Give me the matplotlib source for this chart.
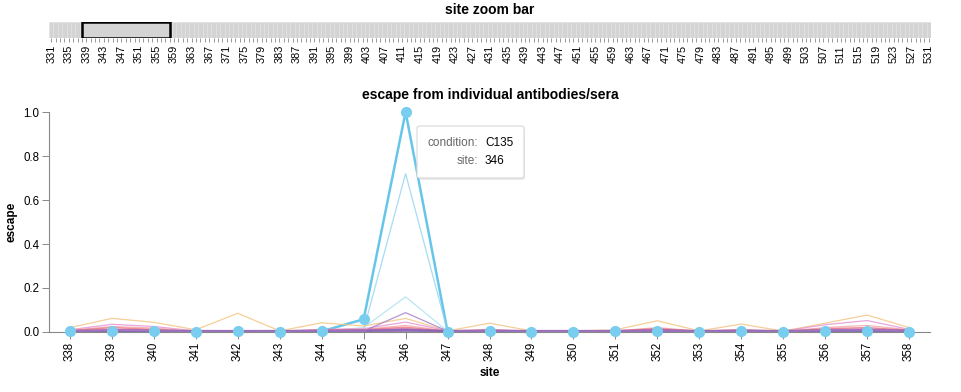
import numpy as np
import matplotlib.pyplot as plt
from matplotlib.patches import Rectangle, FancyBboxPatch
import matplotlib as mpl

mpl.rcParams['font.family'] = ['Liberation Sans', 'DejaVu Sans']

# zoom bar: all sites, with the selected window
all_sites = list(range(331, 532))
zoom_labels = list(range(331, 532, 4))
zoom_window = (338, 358)

# main panel: sites in the window and escape per condition
sites = list(range(338, 359))

c135 = [0.003, 0.003, 0.003, 0.002, 0.003, 0.002, 0.003, 0.058, 1.0, 0.002, 0.003,
        0.002, 0.002, 0.003, 0.003, 0.002, 0.003, 0.002, 0.003, 0.003, 0.002]
c110 = [0.002, 0.004, 0.003, 0.002, 0.002, 0.002, 0.003, 0.010, 0.72, 0.004, 0.003,
        0.002, 0.002, 0.002, 0.003, 0.002, 0.003, 0.002, 0.003, 0.004, 0.002]
c144 = [0.002, 0.003, 0.003, 0.002, 0.002, 0.002, 0.003, 0.020, 0.16, 0.003, 0.002,
        0.002, 0.002, 0.002, 0.003, 0.002, 0.002, 0.002, 0.003, 0.003, 0.002]
c121 = [0.004, 0.008, 0.006, 0.003, 0.004, 0.003, 0.006, 0.004, 0.088, 0.004, 0.005,
        0.003, 0.003, 0.004, 0.006, 0.003, 0.005, 0.003, 0.008, 0.010, 0.004]
serum_a = [0.020, 0.062, 0.044, 0.010, 0.085, 0.005, 0.042, 0.027, 0.062, 0.005, 0.040,
           0.005, 0.005, 0.010, 0.051, 0.005, 0.036, 0.004, 0.040, 0.077, 0.020]
serum_b = [0.010, 0.035, 0.025, 0.005, 0.006, 0.004, 0.012, 0.015, 0.045, 0.005, 0.012,
           0.004, 0.004, 0.006, 0.015, 0.004, 0.010, 0.004, 0.033, 0.052, 0.012]
serum_c = [0.008, 0.025, 0.018, 0.004, 0.005, 0.003, 0.010, 0.012, 0.030, 0.004, 0.010,
           0.003, 0.003, 0.005, 0.020, 0.004, 0.012, 0.003, 0.020, 0.030, 0.010]
serum_d = [0.006, 0.020, 0.012, 0.003, 0.004, 0.003, 0.008, 0.010, 0.022, 0.003, 0.008,
           0.003, 0.003, 0.004, 0.015, 0.003, 0.008, 0.003, 0.015, 0.020, 0.008]
serum_e = [0.004, 0.012, 0.008, 0.003, 0.003, 0.002, 0.006, 0.008, 0.015, 0.003, 0.006,
           0.002, 0.002, 0.003, 0.010, 0.003, 0.006, 0.002, 0.010, 0.014, 0.006]
serum_f = [0.003, 0.006, 0.005, 0.002, 0.003, 0.002, 0.004, 0.005, 0.010, 0.002, 0.004,
           0.002, 0.002, 0.002, 0.006, 0.002, 0.004, 0.002, 0.006, 0.008, 0.004]
serum_g = [0.002, 0.004, 0.003, 0.002, 0.002, 0.002, 0.003, 0.003, 0.006, 0.002, 0.003,
           0.002, 0.002, 0.002, 0.004, 0.002, 0.003, 0.002, 0.004, 0.005, 0.003]

conditions = ["C110", "C144", "serum A", "serum B", "serum C", "serum D",
              "serum E", "serum F", "serum G", "C121"]
values = [c110, c144, serum_a, serum_b, serum_c, serum_d, serum_e, serum_f, serum_g, c121]
colors = ["#8fd4ef", "#a9dff2", "#f4c27e", "#e48fd6", "#f3a3a8", "#ee6f7a",
          "#d56fa8", "#9c6fc1", "#8a62b0", "#a57ac9"]
widths = [0.9, 0.9, 0.9, 0.9, 0.9, 1.0, 1.2, 1.8, 2.4, 0.9]

fig = plt.figure(figsize=(9.62, 3.92), dpi=100)

# ---- zoom bar ----
axz = fig.add_axes([49 / 962, 1 - 38 / 392, 882 / 962, 16 / 392])
axz.bar(all_sites, 1, width=1, color="#d4d4d4", edgecolor="#e2e2e2", linewidth=0.6)
axz.add_patch(Rectangle((zoom_window[0], 0), zoom_window[1] - zoom_window[0], 1,
                        facecolor="#d4d4d4", edgecolor="black", linewidth=1.8, zorder=5))
axz.set_xlim(330.5, 531.5)
axz.set_ylim(0, 1)
axz.set_yticks([])
axz.set_xticks(all_sites)
axz.set_xticklabels([str(s) if s in zoom_labels else "" for s in all_sites],
                    rotation=90, fontsize=7.8)
axz.tick_params(axis="x", length=3, width=0.6, color="#888888", pad=2)
for sp in axz.spines.values():
    sp.set_visible(False)
fig.text(490 / 962, 1 - 10 / 392, "site zoom bar", ha="center", va="center",
         fontsize=10, fontweight="bold")

# ---- main panel ----
ax = fig.add_axes([49 / 962, 1 - 332 / 392, 881 / 962, 220 / 392])
# selected condition line sits beneath the others, its points on top
ax.plot(sites, c135, color="#66c6ea", linewidth=1.8, zorder=1)
for vals, col, lw in zip(values, colors, widths):
    ax.plot(sites, vals, color=col, linewidth=lw, alpha=0.8, zorder=2)
ax.plot(sites, c135, linestyle="none", marker="o", markersize=7,
        markerfacecolor="#79cdef", markeredgecolor="#79cdef", zorder=10,
        clip_on=False)

ax.set_xlim(337.5, 358.5)
ax.set_ylim(0, 1.0)
ax.set_xticks(sites)
ax.set_xticklabels([str(s) for s in sites], rotation=90, fontsize=8.3)
ax.set_yticks(np.arange(0, 1.01, 0.2))
ax.set_yticklabels(["%.1f" % v for v in np.arange(0, 1.01, 0.2)], fontsize=8.3)
ax.tick_params(length=5, width=0.7, color="#888888", pad=2)
for s in ["top", "right"]:
    ax.spines[s].set_visible(False)
for s in ["left", "bottom"]:
    ax.spines[s].set_color("#888888")
    ax.spines[s].set_linewidth(0.8)
ax.set_xlabel("site", fontsize=8.5, fontweight="bold", labelpad=4)
ax.set_ylabel("escape", fontsize=8.5, fontweight="bold", labelpad=4)
fig.text(490 / 962, 1 - 95 / 392, "escape from individual antibodies/sera",
         ha="center", va="center", fontsize=10, fontweight="bold")

# tooltip
shadow = FancyBboxPatch((419 / 962, 1 - 180 / 392), 106 / 962, 52 / 392,
                        boxstyle="round,pad=0,rounding_size=0.004",
                        transform=fig.transFigure, facecolor="#dddddd",
                        edgecolor="none", alpha=0.6, zorder=20)
box = FancyBboxPatch((417 / 962, 1 - 178 / 392), 107 / 962, 52 / 392,
                     boxstyle="round,pad=0,rounding_size=0.004",
                     transform=fig.transFigure, facecolor="white",
                     edgecolor="#d8d8d8", linewidth=0.8, zorder=21)
fig.patches.extend([shadow, box])
fig.text(478 / 962, 1 - 143 / 392, "condition:", ha="right", va="center",
         fontsize=8.5, color="#666666", zorder=22)
fig.text(485 / 962, 1 - 143 / 392, "C135", ha="left", va="center",
         fontsize=8.5, color="black", zorder=22)
fig.text(478 / 962, 1 - 161 / 392, "site:", ha="right", va="center",
         fontsize=8.5, color="#666666", zorder=22)
fig.text(485 / 962, 1 - 161 / 392, "346", ha="left", va="center",
         fontsize=8.5, color="black", zorder=22)

fig.savefig("out.png", dpi=100)
